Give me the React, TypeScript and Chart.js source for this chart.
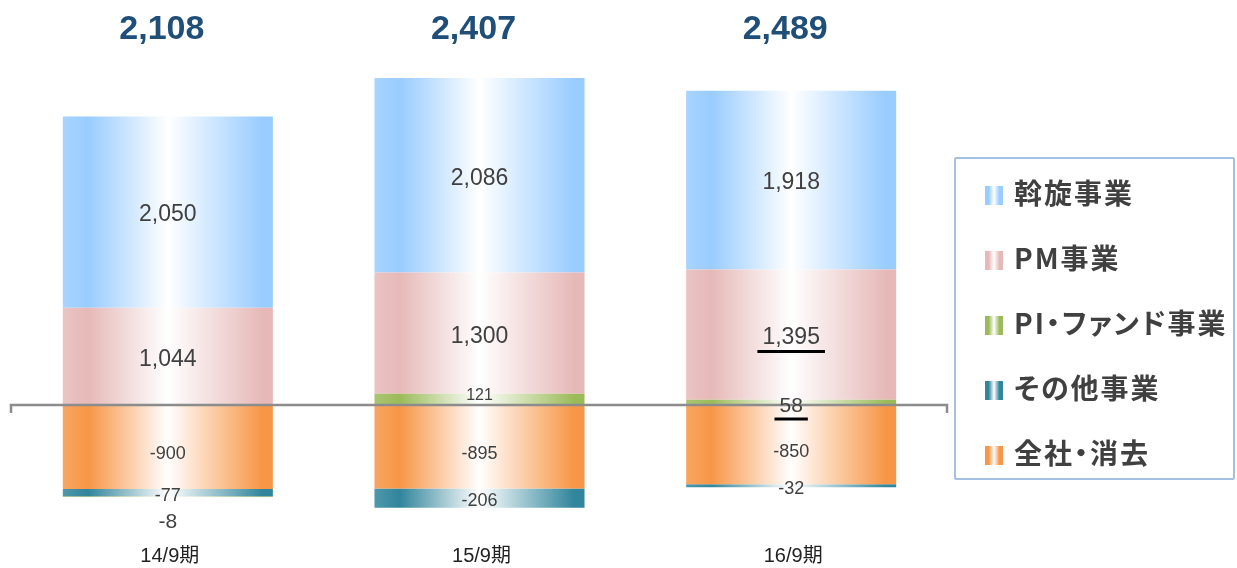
import React, { useEffect, useRef } from "react";
import { Chart, registerables } from "chart.js";
Chart.register(...registerables);

const categories = ["14/9期", "15/9期", "16/9期"];
const assen = [2050, 2086, 1918];
const pm = [1044, 1300, 1395];
const piFund = [-8, 121, 58];
const other = [-77, -206, -32];
const corporate = [-900, -895, -850];
const totals = [2108, 2407, 2489];
const seriesNames = ["斡旋事業", "PM事業", "PI・ファンド事業", "その他事業", "全社・消去"];
const seriesColors = ["#99CCFF", "#E6B9B8", "#9BBB59", "#31859C", "#F79646"];
const underlined = [
  { series: "PM事業", index: 2 },
  { series: "PI・ファンド事業", index: 2 },
];

const FONT = '"Liberation Sans", Arial, "Noto Sans CJK JP", sans-serif';
const BAR_PCT = 0.674;

function mix(hex: string, amt: number) {
  const n = parseInt(hex.slice(1), 16);
  const r = (n >> 16) & 255, g = (n >> 8) & 255, b = n & 255;
  const f = (c: number) => Math.round(c + (255 - c) * amt);
  return `rgb(${f(r)},${f(g)},${f(b)})`;
}

function gradientFor(color: string) {
  return (ctx: any) => {
    const chart = ctx.chart;
    const area = chart.chartArea;
    const xs = chart.scales && chart.scales.x;
    if (!area || !xs || ctx.dataIndex === undefined) return color;
    const cx = xs.getPixelForValue(ctx.dataIndex);
    const half = (area.width / categories.length) * BAR_PCT / 2;
    const g = chart.ctx.createLinearGradient(cx - half, 0, cx + half, 0);
    g.addColorStop(0, mix(color, 0.15));
    g.addColorStop(0.12, color);
    g.addColorStop(0.5, "#ffffff");
    g.addColorStop(0.95, color);
    g.addColorStop(1, color);
    return g;
  };
}

const fmt = (v: number) => v.toLocaleString("en-US");

const overlayPlugin = {
  id: "overlay",
  afterDatasetsDraw(chart: any) {
    const ctx = chart.ctx;
    const area = chart.chartArea;
    const ys = chart.scales.y;
    const xs = chart.scales.x;
    const zeroY = ys.getPixelForValue(0);
    ctx.save();
    // zero line
    ctx.strokeStyle = "#8c8c8c";
    ctx.lineWidth = 2.5;
    ctx.beginPath();
    ctx.moveTo(area.left - 1, zeroY + 8);
    ctx.lineTo(area.left - 1, zeroY);
    ctx.lineTo(area.right, zeroY);
    ctx.lineTo(area.right, zeroY + 8);
    ctx.stroke();

    ctx.textAlign = "center";
    ctx.textBaseline = "middle";
    chart.data.datasets.forEach((ds: any, di: number) => {
      const meta = chart.getDatasetMeta(di);
      meta.data.forEach((el: any, i: number) => {
        const v = ds.data[i];
        const mid = (el.y + el.base) / 2;
        let size = 18;
        let y = mid;
        if (ds.label === "斡旋事業" || ds.label === "PM事業") {
          size = 23;
          y = mid + 3;
        } else if (ds.label === "全社・消去") {
          y = mid + 7;
        } else if (ds.label === "その他事業") {
          y = mid + 3;
        } else if (ds.label === "PI・ファンド事業") {
          if (v < 0) {
            size = 21;
            y = Math.max(el.y, el.base) + 25;
          } else if (v > 100) {
            size = 16;
            y = mid - 4;
          } else {
            size = 21;
            y = mid + 4;
          }
        }
        ctx.font = `${size}px ${FONT}`;
        ctx.fillStyle = "#404040";
        const txt = fmt(v);
        ctx.fillText(txt, el.x, y);
        if (underlined.some((u) => u.series === ds.label && u.index === i)) {
          const w = ctx.measureText(txt).width + 10;
          ctx.strokeStyle = "#000";
          ctx.lineWidth = 3;
          ctx.beginPath();
          ctx.moveTo(el.x - w / 2, y + size * 0.6);
          ctx.lineTo(el.x + w / 2, y + size * 0.6);
          ctx.stroke();
        }
      });
    });

    // totals
    ctx.font = `bold 34px ${FONT}`;
    ctx.fillStyle = "#1f4e79";
    totals.forEach((t, i) => {
      ctx.fillText(fmt(t), xs.getPixelForValue(i) - 6, area.top - 2);
    });

    // category labels
    ctx.font = `20px ${FONT}`;
    ctx.fillStyle = "#222";
    categories.forEach((c, i) => {
      ctx.fillText(c, xs.getPixelForValue(i) + 2, area.bottom + 11);
    });
    ctx.restore();
  },
};

export default function App() {
  const ref = useRef<HTMLCanvasElement>(null);
  useEffect(() => {
    if (!ref.current) return;
    const order = [4, 3, 2, 1, 0];
    const values = [assen, pm, piFund, other, corporate];
    const chart = new Chart(ref.current, {
      type: "bar",
      data: {
        labels: categories,
        datasets: order.map((k) => ({
          label: seriesNames[k],
          data: values[k],
          backgroundColor: gradientFor(seriesColors[k]) as any,
          borderWidth: 0,
          barPercentage: BAR_PCT,
          categoryPercentage: 1,
        })),
      },
      options: {
        responsive: false,
        animation: false,
        layout: { padding: { left: 12, right: 290, top: 32, bottom: 23 } },
        plugins: { legend: { display: false }, tooltip: { enabled: false } },
        scales: {
          x: { display: false, stacked: true },
          y: { display: false, stacked: true, min: -1500, max: 4000 },
        },
      },
      plugins: [overlayPlugin],
    });
    return () => chart.destroy();
  }, []);

  const swatch = (c: string) =>
    `linear-gradient(to right, ${c} 0%, ${c} 20%, #ffffff 50%, ${c} 80%, ${c} 100%)`;

  return (
    <div style={{ position: "absolute", left: 0, top: 0, width: 1237, height: 568, background: "#fff" }}>
      <canvas ref={ref} width={1237} height={568} style={{ display: "block" }} />
      <div
        style={{
          position: "absolute",
          left: 954,
          top: 157,
          width: 281,
          height: 323,
          border: "2px solid #a4c0e4",
          borderRadius: 2,
          boxSizing: "border-box",
        }}
      >
        {seriesNames.map((n, i) => (
          <div
            key={n}
            style={{
              position: "absolute",
              left: 29,
              top: 14 + i * 65,
              height: 38,
              display: "flex",
              alignItems: "center",
              whiteSpace: "nowrap",
            }}
          >
            <span
              style={{
                display: "inline-block",
                width: 18,
                height: 19,
                marginTop: 6,
                background: swatch(seriesColors[i]),
              }}
            />
            <span
              style={{
                marginLeft: 11,
                fontFamily: '"Noto Sans CJK JP", sans-serif',
                fontWeight: 700,
                fontSize: 28,
                letterSpacing: 2,
                fontFeatureSettings: '"palt"',
                color: "#404040",
              }}
            >
              {n}
            </span>
          </div>
        ))}
      </div>
    </div>
  );
}
